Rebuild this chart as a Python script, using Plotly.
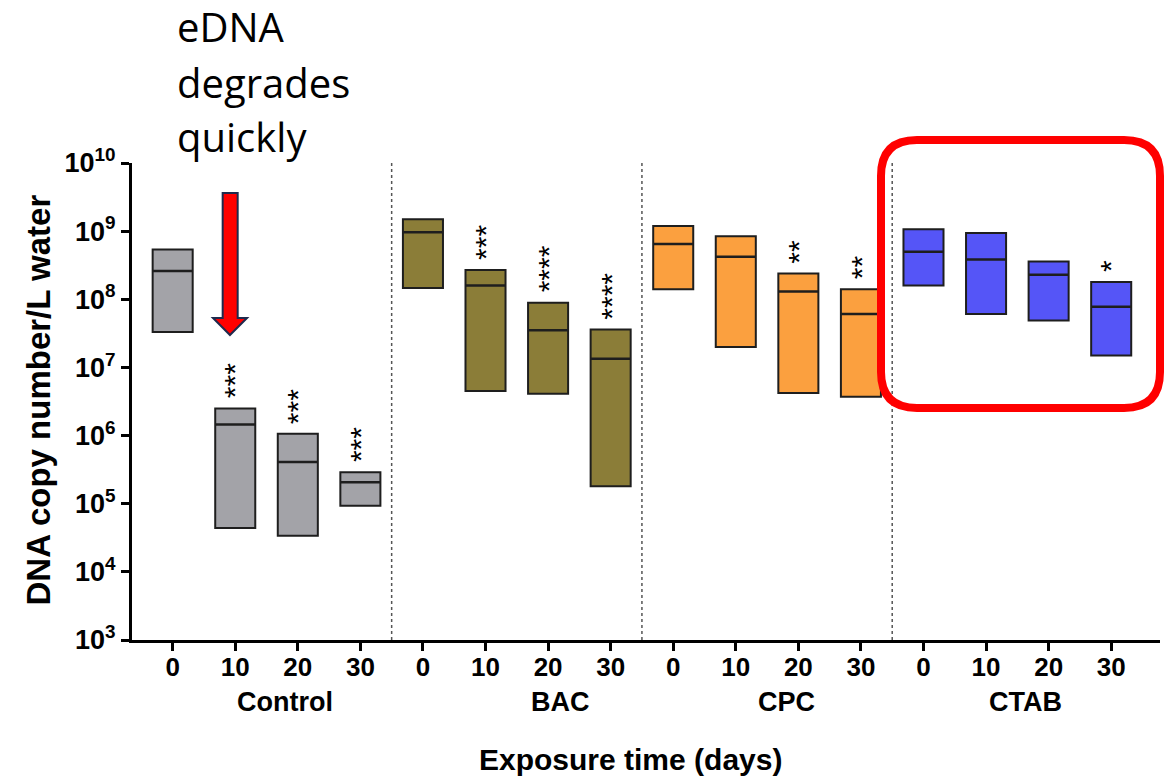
import math
import plotly.graph_objects as go

# ---------------- data ----------------
groups = ["Control", "BAC", "CPC", "CTAB"]
days = ["0", "10", "20", "30"]

control_min = [3.3e7, 4.4e4, 3.4e4, 9.3e4]
control_med = [2.6e8, 1.45e6, 4.1e5, 2.07e5]
control_max = [5.4e8, 2.5e6, 1.06e6, 2.9e5]

bac_min = [1.46e8, 4.5e6, 4.1e6, 1.8e5]
bac_med = [9.6e8, 1.6e8, 3.5e7, 1.34e7]
bac_max = [1.5e9, 2.7e8, 8.9e7, 3.6e7]

cpc_min = [1.4e8, 2.0e7, 4.2e6, 3.7e6]
cpc_med = [6.5e8, 4.2e8, 1.3e8, 6.1e7]
cpc_max = [1.19e9, 8.4e8, 2.4e8, 1.4e8]

ctab_min = [1.6e8, 6.1e7, 4.9e7, 1.5e7]
ctab_med = [5.0e8, 3.85e8, 2.3e8, 7.8e7]
ctab_max = [1.07e9, 9.4e8, 3.6e8, 1.8e8]

control_sig = ["", "***", "***", "***"]
bac_sig = ["", "***", "****", "****"]
cpc_sig = ["", "", "**", "**"]
ctab_sig = ["", "", "", "*"]

y_tickvals = [1e3, 1e4, 1e5, 1e6, 1e7, 1e8, 1e9, 1e10]
y_ticktext = ["10<sup>3</sup>", "10<sup>4</sup>", "10<sup>5</sup>", "10<sup>6</sup>",
              "10<sup>7</sup>", "10<sup>8</sup>", "10<sup>9</sup>", "10<sup>10</sup>"]

# ---------------- style ----------------
colors = ["#a3a3a8", "#8b7d38", "#fba03f", "#5555f7"]
bar_width = 0.64
font_fam = "Liberation Sans, Arial, sans-serif"

series = [
    (control_min, control_med, control_max, control_sig),
    (bac_min, bac_med, bac_max, bac_sig),
    (cpc_min, cpc_med, cpc_max, cpc_sig),
    (ctab_min, ctab_med, ctab_max, ctab_sig),
]

fig = go.Figure()
annotations = []
all_x = []
all_text = []

for g, (mn, md, mx, sig) in enumerate(series):
    xs = [g * 4 + i for i in range(4)]
    all_x += xs
    all_text += days
    fig.add_trace(go.Bar(
        x=xs, y=[b - a for a, b in zip(mn, mx)], base=mn,
        width=bar_width, marker=dict(color=colors[g], line=dict(color="#1e1e1e", width=2)),
        showlegend=False, hoverinfo="skip",
    ))
    lx, ly = [], []
    for x, m in zip(xs, md):
        lx += [x - bar_width / 2, x + bar_width / 2, None]
        ly += [m, m, None]
    fig.add_trace(go.Scatter(x=lx, y=ly, mode="lines",
                             line=dict(color="#1e1e1e", width=2.5),
                             showlegend=False, hoverinfo="skip"))
    for x, top, s in zip(xs, mx, sig):
        if s:
            # annotations on a log axis take log10 of the data value
            annotations.append(dict(
                x=x, y=math.log10(top), xref="x", yref="y", text=s, showarrow=False,
                textangle=-90, xanchor="center", yanchor="bottom", yshift=8,
                font=dict(family=font_fam, size=30, color="black"),
            ))

# dashed separators between groups
for sx in [3.5, 7.5, 11.5]:
    fig.add_trace(go.Scatter(x=[sx, sx], y=[y_tickvals[0], y_tickvals[-1]], mode="lines",
                             line=dict(color="#555555", width=1.5, dash="3px,3px"),
                             showlegend=False, hoverinfo="skip"))

# group labels
group_label_x = [1.79, 6.2, 9.81, 13.63]
for gx, name in zip(group_label_x, groups):
    annotations.append(dict(x=gx, y=-0.13, xref="x", yref="paper", text="<b>%s</b>" % name,
                            showarrow=False, xanchor="center", yanchor="middle",
                            font=dict(family=font_fam, size=27, color="black")))

# axis titles
annotations.append(dict(x=0.485, y=-0.25, xref="paper", yref="paper",
                        text="<b>Exposure time (days)</b>", showarrow=False,
                        xanchor="center", yanchor="middle",
                        font=dict(family=font_fam, size=30, color="black")))
annotations.append(dict(x=-0.091, y=0.503, xref="paper", yref="paper",
                        text="<b>DNA copy number/L water</b>", showarrow=False,
                        textangle=-90, xanchor="center", yanchor="middle",
                        font=dict(family=font_fam, size=33, color="black")))

# eDNA text
PX0, PX1, PY0, PY1 = 132, 1160, 163, 640


def px(x):
    return (x - PX0) / (PX1 - PX0)


def py(y):
    return (PY1 - y) / (PY1 - PY0)


for line, yc in zip(["eDNA", "degrades", "quickly"], [27, 82, 137]):
    annotations.append(dict(x=px(175), y=py(yc), xref="paper", yref="paper", text=line,
                            showarrow=False, xanchor="left", yanchor="middle",
                            font=dict(family="Open Sans, sans-serif", size=40, color="black")))

# red arrow
arrow_pts = [(222.7, 193), (237.7, 193), (237.7, 318), (247, 318), (230, 335),
             (213, 318), (222.7, 318)]
arrow_path = "M " + " L ".join("%.4f,%.4f" % (px(a), py(b)) for a, b in arrow_pts) + " Z"

# red rounded rectangle
L, T, R, B, r = 881, 140, 1160, 408, 36
rr = [("M", L + r, T), ("L", R - r, T), ("Q", R, T, R, T + r), ("L", R, B - r),
      ("Q", R, B, R - r, B), ("L", L + r, B), ("Q", L, B, L, B - r), ("L", L, T + r),
      ("Q", L, T, L + r, T)]
parts = []
for seg in rr:
    if seg[0] == "Q":
        parts.append("Q %.4f,%.4f %.4f,%.4f" % (px(seg[1]), py(seg[2]), px(seg[3]), py(seg[4])))
    else:
        parts.append("%s %.4f,%.4f" % (seg[0], px(seg[1]), py(seg[2])))
rect_path = " ".join(parts) + " Z"

shapes = [
    dict(type="path", xref="paper", yref="paper", path=arrow_path,
         fillcolor="#ff0000", line=dict(color="#1f2a4d", width=2)),
    dict(type="path", xref="paper", yref="paper", path=rect_path,
         fillcolor="rgba(0,0,0,0)", line=dict(color="#ff0000", width=8)),
]

fig.update_layout(
    width=1165, height=777,
    margin=dict(l=PX0, r=1165 - PX1, t=PY0, b=777 - PY1),
    paper_bgcolor="white", plot_bgcolor="white",
    barmode="overlay",
    annotations=annotations, shapes=shapes,
    xaxis=dict(range=[-0.65, 15.78], tickvals=all_x, ticktext=all_text,
               showline=True, linecolor="black", linewidth=3, showgrid=False, zeroline=False,
               ticks="outside", ticklen=8, tickwidth=3, tickcolor="black",
               ticklabelstandoff=-6,
               tickfont=dict(family=font_fam, size=26, color="black", weight="bold")),
    yaxis=dict(type="log", range=[3, 10], tickvals=y_tickvals, ticktext=y_ticktext,
               showline=True, linecolor="black", linewidth=3, showgrid=False, zeroline=False,
               ticks="outside", ticklen=8, tickwidth=3, tickcolor="black",
               tickfont=dict(family=font_fam, size=27, color="black", weight="bold")),
)

fig.write_html("out.html")
